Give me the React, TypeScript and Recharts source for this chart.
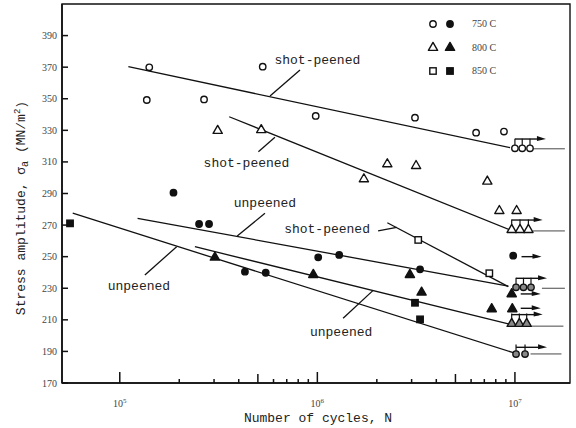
import React from "react";
import {
  ScatterChart,
  Scatter,
  XAxis,
  YAxis,
  ReferenceLine,
  ReferenceDot,
  ReferenceArea,
  Legend,
} from "recharts";

// n = number of cycles, s = stress amplitude (MN/m2)
const xTicks = [
  1e5, 2e5, 3e5, 4e5, 5e5, 6e5, 7e5, 8e5, 9e5,
  1e6, 2e6, 3e6, 4e6, 5e6, 6e6, 7e6, 8e6, 9e6, 1e7,
];
const yTicks = [170, 190, 210, 230, 250, 270, 290, 310, 330, 350, 370, 390];

const legendTemps = ["750 C", "800 C", "850 C"];

// shot-peened (open markers)
const sp750 = [
  { n: 1.41e5, s: 369.9 }, { n: 5.29e5, s: 370.3 }, { n: 1.37e5, s: 349.2 },
  { n: 2.67e5, s: 349.6 }, { n: 9.81e5, s: 339.1 }, { n: 3.12e6, s: 338 },
  { n: 6.36e6, s: 328.5 }, { n: 8.8e6, s: 329.2 },
];
const sp800 = [
  { n: 3.13e5, s: 330.2 }, { n: 5.2e5, s: 330.7 }, { n: 1.72e6, s: 299.6 },
  { n: 2.26e6, s: 309.1 }, { n: 3.16e6, s: 308 }, { n: 7.25e6, s: 298.1 },
  { n: 8.34e6, s: 279.5 }, { n: 1.02e7, s: 279.5 },
];
const sp850 = [{ n: 3.24e6, s: 260.6 }, { n: 7.42e6, s: 239.5 }];

// unpeened (filled markers)
const up750 = [
  { n: 1.87e5, s: 290.5 }, { n: 2.52e5, s: 270.7 }, { n: 2.83e5, s: 270.7 },
  { n: 4.3e5, s: 240.5 }, { n: 5.48e5, s: 239.8 }, { n: 1.01e6, s: 249.6 },
  { n: 1.29e6, s: 251.1 }, { n: 3.31e6, s: 242 }, { n: 9.8e6, s: 250.6 },
];
const up800 = [
  { n: 3.03e5, s: 250 }, { n: 9.54e5, s: 239 }, { n: 2.94e6, s: 239 },
  { n: 3.37e6, s: 227.8 }, { n: 9.63e6, s: 226.8 }, { n: 7.63e6, s: 217.3 },
  { n: 9.7e6, s: 217.3 },
];
const up850 = [{ n: 5.6e4, s: 271.1 }, { n: 3.12e6, s: 220.8 }, { n: 3.31e6, s: 210.3 }];

// run-outs (unbroken specimens)
const runSp750 = [{ n: 1.0e7, s: 318.6 }, { n: 1.089e7, s: 318.6 }, { n: 1.192e7, s: 318.6 }];
const runSp800 = [{ n: 9.63e6, s: 267.5 }, { n: 1.061e7, s: 267.5 }, { n: 1.17e7, s: 267.5 }];
const runHatchA = [{ n: 1.013e7, s: 230.6 }, { n: 1.105e7, s: 230.6 }, { n: 1.206e7, s: 230.6 }];
const runHatchB = [{ n: 9.63e6, s: 208 }, { n: 1.053e7, s: 208 }, { n: 1.147e7, s: 208 }];
const runHatchC = [{ n: 1.013e7, s: 188.3 }, { n: 1.125e7, s: 188.3 }];

const bracketArrows = [
  { n: 1.0e7, s: 324.5 }, { n: 9.63e6, s: 273.2 }, { n: 1.013e7, s: 236.3 },
  { n: 9.63e6, s: 213.3 }, { n: 1.013e7, s: 192.6 },
];
const singleArrows = [{ n: 1.08e7, s: 250 }, { n: 1.07e7, s: 226.4 }, { n: 1.07e7, s: 217.3 }];

const fitLines = [
  { from: [1.105e5, 370.3], to: [9.45e6, 319.0] },
  { from: [3.58e5, 338.6], to: [9.45e6, 266.9] },
  { from: [1.23e5, 274.3], to: [9.26e6, 231.4] },
  { from: [2.4e5, 256.3], to: [9.26e6, 207.4] },
  { from: [5.78e4, 277.5], to: [9.81e6, 189.2] },
  { from: [2.26e6, 271.5], to: [9.26e6, 231.0] },
];
const runoutTails = [
  { from: 1.235e7, to: 1.79e7, s: 318.3 },
  { from: 1.235e7, to: 1.79e7, s: 266.3 },
  { from: 1.37e7, to: 1.79e7, s: 230.0 },
  { from: 1.216e7, to: 1.76e7, s: 206.0 },
  { from: 1.2e7, to: 1.72e7, s: 188.4 },
];
const leaders = [
  { from: [8.17e5, 368.2], to: [5.76e5, 351.7] },
  { from: [5.03e5, 316.5], to: [6.1e5, 325.6] },
  { from: [5.43e5, 277.5], to: [3.93e5, 263.1] },
  { from: [2.03e6, 266.4], to: [2.52e6, 268.6] },
  { from: [1.34e5, 238.4], to: [1.94e5, 256.3] },
  { from: [1.35e6, 211.0], to: [1.91e6, 228.5] },
];
const labels = [
  { text: "shot-peened", n: 1.0e6, s: 374.5 },
  { text: "shot-peened", n: 4.38e5, s: 309.3 },
  { text: "unpeened", n: 5.43e5, s: 283.4 },
  { text: "shot-peened", n: 1.12e6, s: 266.9 },
  { text: "unpeened", n: 1.25e5, s: 231.4 },
  { text: "unpeened", n: 1.32e6, s: 201.7 },
];

const INK = "#111";
const MONO = "'Liberation Mono', 'DejaVu Sans Mono', monospace";
const SERIF = "'Liberation Serif', serif";

type Kind = "circle" | "triangle" | "square";

function markerEl(kind: Kind, cx: number, cy: number, fill: string) {
  if (kind === "circle") {
    return <circle cx={cx} cy={cy} r={3.2} fill={fill} stroke={INK} strokeWidth={1.4} />;
  }
  if (kind === "triangle") {
    const pts = `${cx},${cy - 4.6} ${cx - 4.6},${cy + 3.4} ${cx + 4.6},${cy + 3.4}`;
    return <polygon points={pts} fill={fill} stroke={INK} strokeWidth={1.4} strokeLinejoin="round" />;
  }
  return <rect x={cx - 3.2} y={cy - 3.2} width={6.4} height={6.4} fill={fill} stroke={INK} strokeWidth={1.4} />;
}

const shape = (kind: Kind, fill: string) => (p: any) => <g>{markerEl(kind, p.cx, p.cy, fill)}</g>;

const runoutShape = (kind: Kind, fill: string) => (p: any) => (
  <g>
    <line x1={p.cx} x2={p.cx} y1={p.cy - 3} y2={p.cy - 9.5} stroke={INK} strokeWidth={1.2} />
    {markerEl(kind, p.cx, p.cy, fill)}
  </g>
);

const arrowShape = (len: number) => (p: any) => (
  <g>
    <line x1={p.cx} x2={p.cx + len - 4} y1={p.cy} y2={p.cy} stroke={INK} strokeWidth={1.4} />
    <polygon
      points={`${p.cx + len},${p.cy} ${p.cx + len - 9},${p.cy - 3} ${p.cx + len - 9},${p.cy + 2}`}
      fill={INK}
    />
  </g>
);

function XTick({ x, y, payload }: any) {
  const v = payload.value as number;
  const e = Math.floor(Math.log10(v) + 1e-9);
  const mant = Math.round(v / Math.pow(10, e));
  const len = mant === 1 ? 11 : mant === 5 ? 9 : 4;
  return (
    <g>
      <line x1={x} x2={x} y1={y} y2={y - len} stroke={INK} strokeWidth={1.5} />
      {mant === 1 && (
        <text x={x} y={y + 24} textAnchor="middle" fontFamily={SERIF} fontSize={10} fill="#444">
          10<tspan dy={-4} fontSize={7}>{e}</tspan>
        </text>
      )}
    </g>
  );
}

function YTick({ x, y, payload }: any) {
  return (
    <g>
      <line x1={x} x2={x + 6} y1={y} y2={y} stroke={INK} strokeWidth={1.5} />
      <text x={x - 5} y={y + 3.5} textAnchor="end" fontFamily={SERIF} fontSize={10} fill="#444">
        {payload.value}
      </text>
    </g>
  );
}

const legendKinds: Kind[] = ["circle", "triangle", "square"];

function LegendBox() {
  return (
    <div style={{ fontFamily: SERIF, fontSize: 10, color: "#444" }}>
      {legendTemps.map((t, i) => (
        <div key={t} style={{ display: "flex", alignItems: "center", height: 23.5 }}>
          <svg width={34} height={14}>
            {markerEl(legendKinds[i], 7, 7, "#fff")}
            {markerEl(legendKinds[i], 24, 7, INK)}
          </svg>
          <span style={{ marginLeft: 12 }}>{t}</span>
        </div>
      ))}
    </div>
  );
}

const XLabel = ({ viewBox }: any) => (
  <text
    x={viewBox.x + viewBox.width / 2 + 2}
    y={viewBox.y + 39}
    textAnchor="middle"
    fontFamily={MONO}
    fontSize={13}
    fill="#222"
  >
    Number of cycles, N
  </text>
);

const YLabel = () => (
  <text transform="translate(25,208) rotate(-90)" textAnchor="middle" fontFamily={MONO} fontSize={13} fill="#222">
    Stress amplitude, σ<tspan dy={3} fontSize={10}>a</tspan>
    <tspan dy={-3}> (MN/m</tspan>
    <tspan dy={-5} fontSize={9}>2</tspan>
    <tspan dy={5}>)</tspan>
  </text>
);

export default function App() {
  return (
    <div style={{ position: "absolute", left: 0, top: 0, width: 576, height: 428, background: "#fff" }}>
      <ScatterChart width={576} height={428} margin={{ top: 4, right: 6, bottom: 0, left: 0 }}>
        <XAxis
          dataKey="n"
          type="number"
          scale="log"
          domain={[5.1e4, 1.9e7]}
          allowDataOverflow
          ticks={xTicks}
          interval={0}
          tick={<XTick />}
          tickLine={false}
          tickSize={0}
          tickMargin={0}
          height={45}
          axisLine={{ stroke: INK, strokeWidth: 1.6 }}
          label={<XLabel />}
        />
        <YAxis
          dataKey="s"
          type="number"
          domain={[170, 410]}
          allowDataOverflow
          ticks={yTicks}
          interval={0}
          tick={<YTick />}
          tickLine={false}
          tickSize={0}
          tickMargin={0}
          width={62}
          axisLine={{ stroke: INK, strokeWidth: 1.6 }}
          label={<YLabel />}
        />
        <ReferenceArea
          x1={5.1e4}
          x2={1.9e7}
          y1={170}
          y2={410}
          ifOverflow="visible"
          fill="none"
          fillOpacity={0}
          stroke={INK}
          strokeWidth={1.4}
        />
        <Legend
          content={<LegendBox />}
          layout="horizontal"
          verticalAlign="middle"
          align="center"
          wrapperStyle={{ top: 12, left: 426, width: 110, height: 72 }}
        />

        {fitLines.map((l, i) => (
          <ReferenceLine
            key={"fit" + i}
            segment={[{ x: l.from[0], y: l.from[1] }, { x: l.to[0], y: l.to[1] }]}
            stroke={INK}
            strokeWidth={1.3}
          />
        ))}
        {runoutTails.map((t, i) => (
          <ReferenceLine
            key={"tail" + i}
            segment={[{ x: t.from, y: t.s }, { x: t.to, y: t.s }]}
            stroke="#333"
            strokeWidth={0.9}
          />
        ))}
        {leaders.map((l, i) => (
          <ReferenceLine
            key={"lead" + i}
            segment={[{ x: l.from[0], y: l.from[1] }, { x: l.to[0], y: l.to[1] }]}
            stroke={INK}
            strokeWidth={1.3}
          />
        ))}
        {labels.map((l, i) => (
          <ReferenceDot
            key={"lab" + i}
            x={l.n}
            y={l.s}
            r={0}
            shape={(p: any) => (
              <text x={p.cx} y={p.cy} textAnchor="middle" dominantBaseline="central" fontFamily={MONO} fontSize={13} fill="#222">
                {l.text}
              </text>
            )}
          />
        ))}

        <Scatter name="750 C shot-peened" data={sp750} shape={shape("circle", "#fff")} isAnimationActive={false} />
        <Scatter name="800 C shot-peened" data={sp800} shape={shape("triangle", "#fff")} isAnimationActive={false} />
        <Scatter name="850 C shot-peened" data={sp850} shape={shape("square", "#fff")} isAnimationActive={false} />
        <Scatter name="750 C unpeened" data={up750} shape={shape("circle", INK)} isAnimationActive={false} />
        <Scatter name="800 C unpeened" data={up800} shape={shape("triangle", INK)} isAnimationActive={false} />
        <Scatter name="850 C unpeened" data={up850} shape={shape("square", INK)} isAnimationActive={false} />

        <Scatter data={runSp750} shape={runoutShape("circle", "#fff")} isAnimationActive={false} />
        <Scatter data={runSp800} shape={runoutShape("triangle", "#fff")} isAnimationActive={false} />
        <Scatter data={runHatchA} shape={runoutShape("circle", "#888")} isAnimationActive={false} />
        <Scatter data={runHatchB} shape={runoutShape("triangle", "#888")} isAnimationActive={false} />
        <Scatter data={runHatchC} shape={runoutShape("circle", "#888")} isAnimationActive={false} />
        <Scatter data={bracketArrows} shape={arrowShape(31)} isAnimationActive={false} />
        <Scatter data={singleArrows} shape={arrowShape(20)} isAnimationActive={false} />
      </ScatterChart>
    </div>
  );
}
